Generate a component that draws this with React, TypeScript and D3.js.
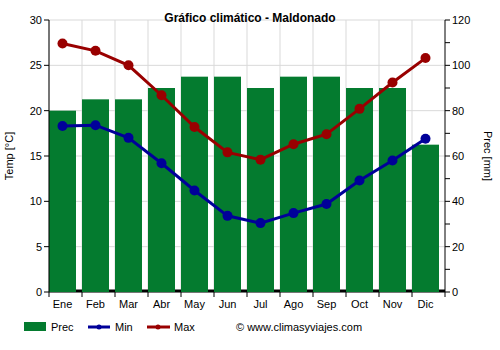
import React from "react";
import * as d3 from "d3";

const months = ["Ene","Feb","Mar","Abr","May","Jun","Jul","Ago","Sep","Oct","Nov","Dic"];
const prec = [80,85,85,90,95,95,90,95,95,90,90,65];
const tmin = [18.3,18.4,17.0,14.2,11.2,8.4,7.6,8.7,9.7,12.3,14.5,16.9];
const tmax = [27.4,26.6,25.0,21.7,18.2,15.4,14.6,16.3,17.4,20.2,23.1,25.8];
const tempTicks = [0,5,10,15,20,25,30];
const precTicks = [0,20,40,60,80,100,120];
const precMinor = [10,30,50,70,90,110];

export default function App() {
  const W = 500, H = 350;
  const L = 49, R = 445, T = 20, B = 292;
  const x = d3.scaleBand<string>().domain(months).range([L, R]).paddingInner(0).paddingOuter(0);
  const bw = 27;
  const yT = d3.scaleLinear().domain([0, 30]).range([B, T]);
  const yP = d3.scaleLinear().domain([0, 120]).range([B, T]);
  const cx = (m: string) => (x(m) as number) + bw / 2;
  const lineT = d3.line<number>().x((_, i) => cx(months[i])).y(d => yT(d));
  const font = "Arial, 'Liberation Sans', sans-serif";
  return (
    <svg width={W} height={H} style={{ position: "absolute", left: 0, top: 0 }} fontFamily={font}>
      <rect width={W} height={H} fill="#fff" />
      {tempTicks.map(t => (
        <line key={"g" + t} x1={L} x2={R} y1={yT(t)} y2={yT(t)} stroke="#d9d9d9" strokeWidth={1} />
      ))}
      {months.map((m, i) => (
        <line key={"v" + m} x1={(x(m) as number)} x2={(x(m) as number)} y1={T} y2={B} stroke="#d9d9d9" strokeWidth={1} />
      ))}
      <line x1={L} x2={R} y1={B - 1} y2={B - 1} stroke="#000" strokeWidth={3} />
      {months.map((m, i) => (
        <rect key={"b" + m} x={x(m) as number} y={yP(prec[i])} width={bw} height={B - yP(prec[i])} fill="#047B2F" />
      ))}
      <path d={lineT(tmax) || ""} fill="none" stroke="#990000" strokeWidth={3} />
      <path d={lineT(tmin) || ""} fill="none" stroke="#000099" strokeWidth={3} />
      {tmax.map((v, i) => <circle key={"mx" + i} cx={cx(months[i])} cy={yT(v)} r={5} fill="#990000" />)}
      {tmin.map((v, i) => <circle key={"mn" + i} cx={cx(months[i])} cy={yT(v)} r={5} fill="#000099" />)}
      {/* left axis */}
      <line x1={L} x2={L} y1={T} y2={B} stroke="#000" strokeWidth={1} />
      {tempTicks.map(t => (
        <g key={"lt" + t}>
          <line x1={L - 5} x2={L} y1={yT(t)} y2={yT(t)} stroke="#000" />
          <text x={L - 7} y={yT(t)} dy="0.35em" textAnchor="end" fontSize={11} fill="#000">{t}</text>
        </g>
      ))}
      {/* right axis */}
      <line x1={R} x2={R} y1={T} y2={B} stroke="#000" strokeWidth={1} />
      {precTicks.map(t => (
        <g key={"rt" + t}>
          <line x1={R} x2={R + 5} y1={yP(t)} y2={yP(t)} stroke="#000" />
          <text x={R + 7} y={yP(t)} dy="0.35em" textAnchor="start" fontSize={11} fill="#000">{t}</text>
        </g>
      ))}
      {precMinor.map(t => (
        <line key={"rm" + t} x1={R} x2={R + 5} y1={yP(t)} y2={yP(t)} stroke="#000" />
      ))}
      {/* bottom axis */}
      {months.map(m => (
        <line key={"bt" + m} x1={x(m) as number} x2={x(m) as number} y1={B} y2={B + 5} stroke="#000" />
      ))}
      <line x1={R} x2={R} y1={B} y2={B + 5} stroke="#000" />
      {months.map(m => (
        <text key={"bl" + m} x={cx(m)} y={B + 16} textAnchor="middle" fontSize={11} fill="#000">{m}</text>
      ))}
      <text x={250} y={22} textAnchor="middle" fontSize={12} fontWeight="bold" fill="#000">Gráfico climático - Maldonado</text>
      <text transform={`translate(13,${(T + B) / 2}) rotate(-90)`} textAnchor="middle" fontSize={11} fill="#000">Temp [°C]</text>
      <text transform={`translate(484,${(T + B) / 2}) rotate(90)`} textAnchor="middle" fontSize={11} fill="#000">Prec [mm]</text>
      {/* legend */}
      <rect x={24} y={322} width={22} height={9} fill="#047B2F" />
      <text x={51} y={331} fontSize={11} fill="#000">Prec</text>
      <line x1={88} x2={110} y1={327} y2={327} stroke="#000099" strokeWidth={3} />
      <circle cx={99} cy={327} r={2.5} fill="#000099" />
      <text x={115} y={331} fontSize={11} fill="#000">Min</text>
      <line x1={147} x2={170} y1={327} y2={327} stroke="#990000" strokeWidth={3} />
      <circle cx={158} cy={327} r={2.5} fill="#990000" />
      <text x={174} y={331} fontSize={11} fill="#000">Max</text>
      <text x={236} y={331} fontSize={11} fill="#000">© www.climasyviajes.com</text>
    </svg>
  );
}
